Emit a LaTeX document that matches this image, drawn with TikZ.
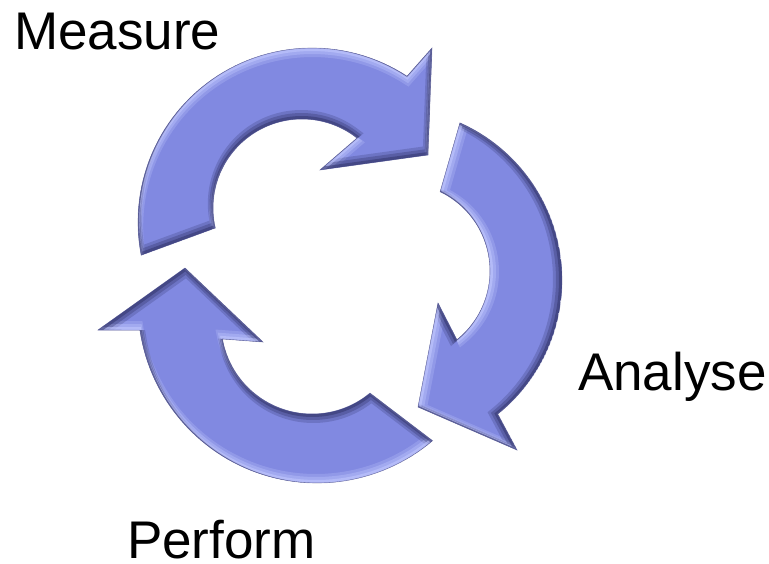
\documentclass[tikz,border=0pt]{standalone}
\usepackage{fontspec}
\setmainfont{Liberation Sans}
\definecolor{face}{RGB}{129,137,225}
\definecolor{hi}{RGB}{196,202,255}
\definecolor{lo}{RGB}{52,54,110}
\tikzset{
  arrowA/.style={insert path={plot[variable=\t,domain=169:303.1,samples=60] ({312+174*cos(\t)},{222+174*sin(\t)}) -- (432,48) -- (428,155) -- (320,170) -- plot[variable=\t,domain=308.2:167,samples=60] ({302+89*cos(\t)},{208+89*sin(\t)}) -- cycle}},
  arrowB/.style={insert path={plot[variable=\t,domain=294:411.2,samples=60] ({390+172*cos(\t)},{280+172*sin(\t)}) -- (517,450) -- (418,407) -- (438,303) -- plot[variable=\t,domain=411.4:295.7,samples=60] ({402+88*cos(\t)},{271+88*sin(\t)}) -- cycle}},
  arrowC/.style={insert path={plot[variable=\t,domain=49.8:171.6,samples=60] ({317+179*cos(\t)},{304+179*sin(\t)}) -- (98,330) -- (185,268) -- (263,342) -- plot[variable=\t,domain=169.9:50.4,samples=60] ({312+91*cos(\t)},{323+91*sin(\t)}) -- cycle}},
  wordlabel/.style={font=\fontsize{39.75pt}{44pt}\selectfont, anchor=base west, inner sep=0pt, outer sep=0pt}
}
\newcommand\bevelarrow[3]{%
  \begin{scope}
    \path[clip,#1];
    \fill[face,#1];
    \foreach \bw/\op in {4.5/0.25,3/0.35,1.5/0.55}{%
      \draw[hi,opacity=\op,line width=1.5pt*\bw,line join=miter,shift={({-1*(#2)*\bw},{-1*(#3)*\bw})},#1];
      \draw[lo,opacity=\op,line width=1.5pt*\bw,line join=miter,shift={({(#2)*\bw},{(#3)*\bw})},#1];
    }
  \end{scope}
  \draw[lo,opacity=0.35,line width=0.5pt,#1];
}
\begin{document}
\begin{tikzpicture}[x=0.75pt,y=-0.75pt]
  \fill[white] (0,0) rectangle (769,564);
  \useasboundingbox (0,0) rectangle (769,564);
  \bevelarrow{arrowA}{-0.15}{-1}
  \bevelarrow{arrowB}{-1}{-0.15}
  \bevelarrow{arrowC}{0.3}{1}
  \node[wordlabel] (measure) at (14,50) {Measure};
  \node[wordlabel] (analyse) at (578,390) {Analyse};
  \node[wordlabel] (perform) at (127,558) {Perform};
\end{tikzpicture}
\end{document}
